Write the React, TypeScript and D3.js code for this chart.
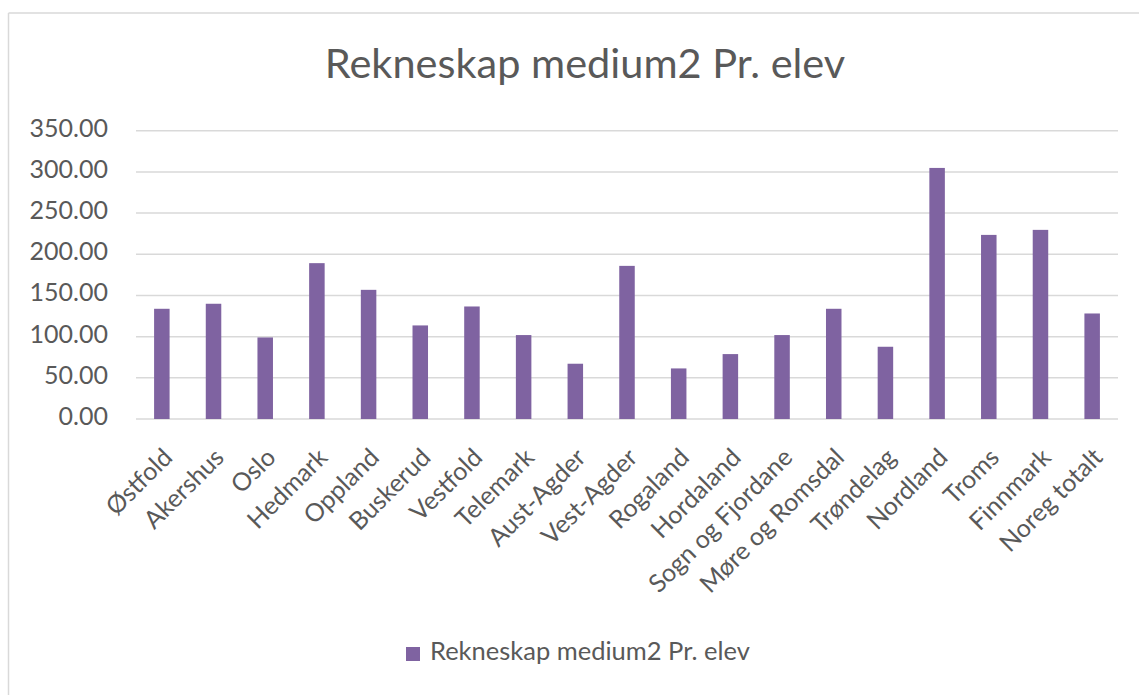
import React from "react";
import * as d3 from "d3";

const categories = [
  "Østfold", "Akershus", "Oslo", "Hedmark", "Oppland", "Buskerud", "Vestfold",
  "Telemark", "Aust-Agder", "Vest-Agder", "Rogaland", "Hordaland",
  "Sogn og Fjordane", "Møre og Romsdal", "Trøndelag", "Nordland", "Troms",
  "Finnmark", "Noreg totalt",
];
const values = [
  133.8, 139.9, 99.0, 189.2, 156.8, 113.6, 136.6, 101.9, 67.1, 185.9, 61.4,
  78.8, 101.9, 133.8, 87.7, 304.8, 223.5, 229.6, 128.1,
];
const yTicks = [0, 50, 100, 150, 200, 250, 300, 350];
const title = "Rekneskap medium2 Pr. elev";
const seriesName = "Rekneskap medium2 Pr. elev";

const W = 1139;
const H = 695;
const FONT = "Lato, 'Open Sans', sans-serif";
const TEXT = "#595959";
const GRID = "#d9d9d9";
const BAR = "#7f63a1";

export default function App() {
  const x = d3.scaleBand<string>().domain(categories).range([136, 1118]).paddingInner(0.7).paddingOuter(0.35);
  const xc = d3.scaleBand<string>().domain(categories).range([136, 1118]);
  const y = d3.scaleLinear().domain([0, 350]).range([419, 130.7]);

  return (
    <svg
      width={W}
      height={H}
      style={{ position: "absolute", left: 0, top: 0, background: "#fff" }}
      fontFamily={FONT}
    >
      <rect x={0} y={0} width={W} height={H} fill="#fff" />
      {/* frame */}
      <line x1={8.5} y1={13} x2={W} y2={13} stroke={GRID} strokeWidth={1.5} />
      <line x1={8.5} y1={13} x2={8.5} y2={H} stroke={GRID} strokeWidth={1.5} />

      {/* title */}
      <text x={585} y={78} textAnchor="middle" fontSize={41.5} fontWeight={400} fill={TEXT}>
        {title}
      </text>

      {/* gridlines and y labels */}
      {yTicks.map((t) => (
        <g key={t}>
          <line x1={136} x2={1118} y1={y(t)} y2={y(t)} stroke={GRID} strokeWidth={1.5} />
          <text x={108} y={y(t) + 6} textAnchor="end" fontSize={25} fill={TEXT}>
            {t.toFixed(2)}
          </text>
        </g>
      ))}

      {/* bars */}
      {categories.map((c, i) => (
        <rect
          key={c}
          x={x(c)}
          y={y(values[i])}
          width={x.bandwidth()}
          height={y(0) - y(values[i])}
          fill={BAR}
        />
      ))}

      {/* x labels */}
      {categories.map((c) => {
        const cx = (xc(c) as number) + xc.bandwidth() / 2 + 12;
        const cy = 459;
        return (
          <text
            key={c}
            x={cx}
            y={cy}
            textAnchor="end"
            fontSize={25}
            fill={TEXT}
            transform={`rotate(-45, ${cx}, ${cy})`}
          >
            {c}
          </text>
        );
      })}

      {/* legend */}
      <rect x={406} y={647} width={14} height={14} fill={BAR} />
      <text x={430} y={660} fontSize={25.5} fill={TEXT}>
        {seriesName}
      </text>
    </svg>
  );
}
